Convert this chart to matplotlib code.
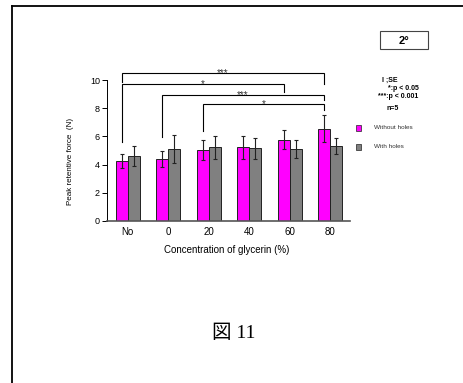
import numpy as np
import matplotlib
matplotlib.use('Agg')
import matplotlib.pyplot as plt
from matplotlib.lines import Line2D
from matplotlib.patches import Rectangle

plt.rcParams['font.family'] = ['Liberation Sans', 'DejaVu Sans']

# 保持力データ (平均値と標準誤差)
categories = ['No', '0', '20', '40', '60', '80']
without_holes = [4.25, 4.4, 5.02, 5.22, 5.78, 6.56]
without_holes_se = [0.48, 0.55, 0.7, 0.8, 0.7, 0.97]
with_holes = [4.62, 5.08, 5.22, 5.17, 5.08, 5.3]
with_holes_se = [0.7, 1.0, 0.8, 0.75, 0.63, 0.56]
series_names = ['Without holes', 'With holes']
series_colors = ['#ff00ff', '#808080']

# 有意差ブラケット: (始点, 終点, 高さ, 左脚の下端, 右脚の下端, 記号)
brackets = [
    (0, 5, 10.47, 9.85, 9.7, '***'),
    (0, 4, 9.72, 5.6, 9.13, '*'),
    (1, 5, 8.94, 5.93, 8.6, '***'),
    (2, 5, 8.3, 6.4, 7.87, '*'),
]
notes = ['I ;SE', '*:p < 0.05', '***:p < 0.001', 'n=5']

W, H = 463, 383
fig = plt.figure(figsize=(W / 100, H / 100), dpi=100)


def fx(px):
    return px / W


def fy(py):
    return 1 - py / H


ax = fig.add_axes([fx(107), fy(221), fx(350) - fx(107), fy(80) - fy(221)])

x = np.arange(len(categories))
w = 0.3
ax.bar(x - w / 2, without_holes, w, color=series_colors[0], edgecolor='#222222',
       linewidth=0.7, yerr=without_holes_se,
       error_kw=dict(ecolor='#222222', elinewidth=0.8, capsize=1.5, capthick=0.8))
ax.bar(x + w / 2, with_holes, w, color=series_colors[1], edgecolor='#222222',
       linewidth=0.7, yerr=with_holes_se,
       error_kw=dict(ecolor='#222222', elinewidth=0.8, capsize=1.5, capthick=0.8))

ax.set_xlim(-0.51, 5.49)
ax.set_ylim(0, 10)
ax.set_yticks(range(0, 11, 2))
ax.set_xticks(x)
ax.set_xticklabels(categories)
ax.tick_params(axis='x', length=0, pad=4, labelsize=7)
ax.tick_params(axis='y', length=3.6, width=0.7, pad=1.5, labelsize=6.5, direction='out')
for s in ['top', 'right']:
    ax.spines[s].set_visible(False)
ax.spines['left'].set_linewidth(0.7)
ax.spines['bottom'].set_color('#555555')
ax.spines['bottom'].set_linewidth(1.2)

ax.set_ylabel('Peak retentive force  (N)', fontsize=5.8)
ax.yaxis.set_label_coords(-0.136, 0.425)
ax.set_xlabel('Concentration of glycerin (%)', fontsize=7)
ax.xaxis.set_label_coords(0.494, -0.17)

# ブラケットと星印
for i0, i1, top, left_foot, right_foot, mark in brackets:
    xa, xb = i0 - w / 2, i1 - w / 2
    ax.plot([xa, xa, xb, xb], [left_foot, top, top, right_foot],
            color='black', lw=0.8, clip_on=False, solid_joinstyle='miter')
    ax.text((xa + xb) / 2, top, mark, ha='center', va='center', fontsize=7,
            color='#333333', clip_on=False)

# 凡例
for k, (name, col) in enumerate(zip(series_names, series_colors)):
    yc = 127.5 + k * 19
    fig.patches.append(Rectangle((fx(356), fy(yc + 3)), fx(5), fy(yc - 3) - fy(yc + 3),
                                 facecolor=col, edgecolor='#222222', linewidth=0.5,
                                 transform=fig.transFigure))
    fig.text(fx(374), fy(yc), name, fontsize=4.6, va='center', ha='left', color='#333333')

# 注記
note_pos = [(390, 80), (403, 89), (398, 97), (393, 109)]
for t, (px, py) in zip(notes, note_pos):
    fig.text(fx(px), fy(py), t, fontsize=5, fontweight='bold', ha='center', va='center')

# 角度ラベルの枠
fig.patches.append(Rectangle((fx(380), fy(49)), fx(428) - fx(380), fy(31) - fy(49),
                             facecolor='white', edgecolor='#444444', linewidth=0.8,
                             transform=fig.transFigure))
fig.text(fx(404), fy(40.5), '2°', fontsize=8, fontweight='bold', ha='center', va='center')

# 外枠
fig.add_artist(Line2D([fx(12), 1], [fy(5.5), fy(5.5)], color='black', lw=1.3,
                      transform=fig.transFigure))
fig.add_artist(Line2D([fx(12), fx(12)], [fy(5.5), 0], color='black', lw=1.3,
                      transform=fig.transFigure))

fig.text(fx(234), fy(333), '図 11', fontsize=14, ha='center', va='center',
         family=['Liberation Serif', 'Noto Sans CJK JP'])

fig.savefig('out.png', dpi=100)
